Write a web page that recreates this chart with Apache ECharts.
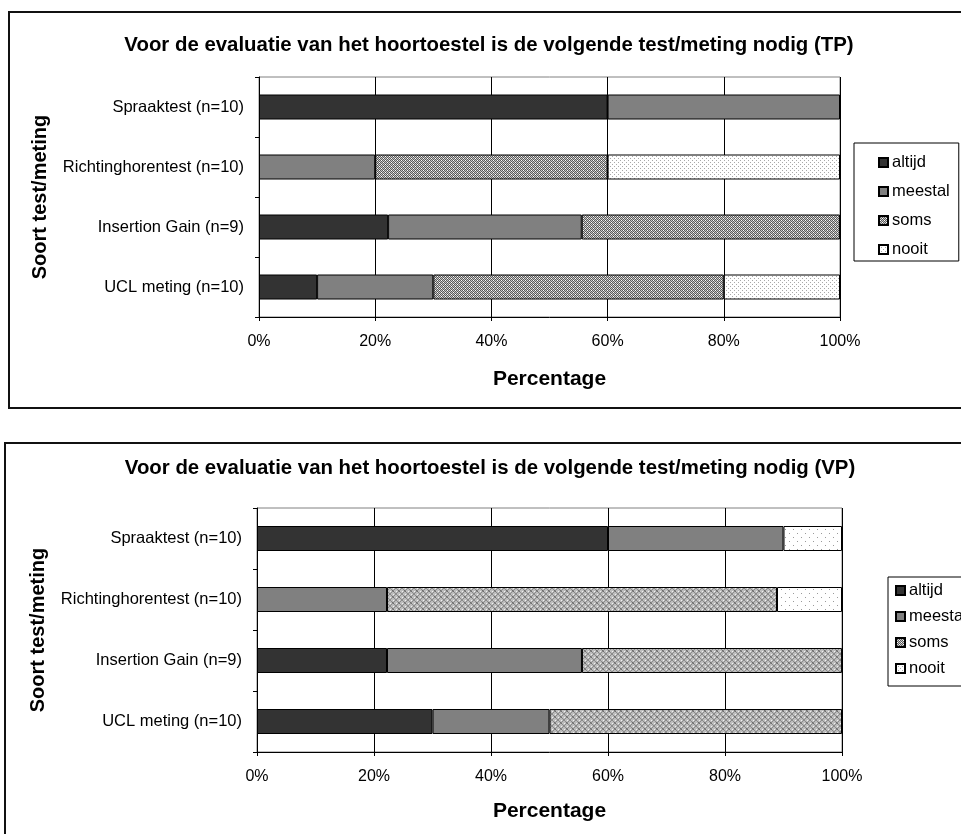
<!DOCTYPE html>
<html>
<head>
<meta charset="utf-8">
<script src="https://cdn.jsdelivr.net/npm/echarts@6/dist/echarts.min.js"></script>
<style>
  html, body { margin: 0; padding: 0; background: #fff; }
  #chart { width: 961px; height: 834px; }
</style>
</head>
<body>
<div id="chart"></div>
<script>
// Categories (top to bottom)
const categories = ['Spraaktest (n=10)', 'Richtinghorentest (n=10)', 'Insertion Gain (n=9)', 'UCL meting (n=10)'];
const seriesNames = ['altijd', 'meestal', 'soms', 'nooit'];
const xTicks = [0, 20, 40, 60, 80, 100];

// TP percentages per category
const tpAltijd  = [60, 0, 22.22, 10];
const tpMeestal = [40, 20, 33.33, 20];
const tpSoms    = [0, 40, 44.44, 50];
const tpNooit   = [0, 40, 0, 20];

// VP percentages per category
const vpAltijd  = [60, 0, 22.22, 30];
const vpMeestal = [30, 22.22, 33.33, 20];
const vpSoms    = [0, 66.67, 44.44, 50];
const vpNooit   = [10, 11.11, 0, 0];

const titleTP = 'Voor de evaluatie van het hoortoestel is de volgende test/meting nodig (TP)';
const titleVP = 'Voor de evaluatie van het hoortoestel is de volgende test/meting nodig (VP)';
const yName = 'Soort test/meting';
const xName = 'Percentage';

// Fill patterns drawn on small tiles
function tile(size, paint) {
  const c = document.createElement('canvas');
  c.width = size; c.height = size;
  const ctx = c.getContext('2d');
  paint(ctx);
  return { image: c, repeat: 'repeat' };
}
function px(ctx, x, y, col) { ctx.fillStyle = col; ctx.fillRect(x, y, 1, 1); }

const fineDither = tile(4, ctx => {
  ctx.fillStyle = '#c8c8c8'; ctx.fillRect(0, 0, 4, 4);
  for (let y = 0; y < 4; y++) for (let x = 0; x < 4; x++) {
    if ((x + y) % 2 === 0) px(ctx, x, y, '#5a5a5a');
  }
  px(ctx, 1, 0, '#ffffff'); px(ctx, 3, 2, '#ffffff');
});
const sparseDots = tile(4, ctx => {
  ctx.fillStyle = '#ffffff'; ctx.fillRect(0, 0, 4, 4);
  px(ctx, 0, 0, '#a8a8a8'); px(ctx, 2, 2, '#a8a8a8');
});
const crossWeave = tile(6, ctx => {
  ctx.fillStyle = '#bdbdbd'; ctx.fillRect(0, 0, 6, 6);
  for (let y = 0; y < 6; y++) for (let x = 0; x < 6; x++) {
    if (x === y || x === 5 - y) px(ctx, x, y, '#8a8a8a');
  }
  px(ctx, 0, 3, '#efefef'); px(ctx, 3, 0, '#efefef');
  px(ctx, 2, 2, '#6e6e6e'); px(ctx, 3, 3, '#6e6e6e');
});
const wideDots = tile(8, ctx => {
  ctx.fillStyle = '#ffffff'; ctx.fillRect(0, 0, 8, 8);
  px(ctx, 1, 1, '#9a9a9a'); px(ctx, 5, 5, '#9a9a9a');
});

const FONT = 'Liberation Sans, Arial, sans-serif';
const fillsTP = ['#333333', '#808080', fineDither, sparseDots];
const fillsVP = ['#333333', '#808080', crossWeave, wideDots];

const blank = v => (v === 0 ? '-' : v);

function buildSeries(gridIdx, values, fills) {
  return values.map((vals, i) => ({
    name: seriesNames[i],
    type: 'bar',
    stack: 'g' + gridIdx,
    xAxisIndex: gridIdx,
    yAxisIndex: gridIdx,
    legendIndex: gridIdx,
    barWidth: 25,
    data: vals.map(blank),
    itemStyle: { color: fills[i], borderColor: '#000', borderWidth: 1 },
    emphasis: { disabled: true },
    silent: true
  }));
}

function xAxis(gridIdx, gap) {
  return {
    type: 'value', gridIndex: gridIdx, min: 0, max: 100, interval: 20,
    name: xName, nameLocation: 'middle', nameGap: gap,
    nameTextStyle: { fontFamily: FONT, fontWeight: 'bold', fontSize: 21, color: '#000' },
    axisLine: { show: true, lineStyle: { color: '#000', width: 1 } },
    axisTick: { show: true, length: 4, lineStyle: { color: '#000' } },
    axisLabel: { formatter: '{value}%', margin: 17, fontFamily: FONT, fontSize: 16, color: '#000' },
    splitLine: { show: true, lineStyle: { color: '#000', width: 1 } }
  };
}
function yAxis(gridIdx, gap) {
  return {
    type: 'category', gridIndex: gridIdx, data: categories, inverse: true,
    name: yName, nameLocation: 'middle', nameGap: gap, nameRotate: 90,
    nameTextStyle: { fontFamily: FONT, fontWeight: 'bold', fontSize: 20, color: '#000' },
    axisLine: { show: true, lineStyle: { color: '#000', width: 1 } },
    axisTick: { show: true, length: 4, inside: false, lineStyle: { color: '#000' } },
    axisLabel: { margin: 15, fontFamily: FONT, fontSize: 16.5, color: '#000' },
    splitLine: { show: false }
  };
}
function legend(left, top, gap, padding) {
  return {
    data: seriesNames, orient: 'vertical', left: left, top: top,
    icon: 'rect', itemWidth: 9, itemHeight: 9, itemGap: gap,
    borderColor: '#000', borderWidth: 1, padding: padding,
    textStyle: { fontFamily: FONT, fontSize: 16.5, color: '#000', padding: [0, 0, 0, -1] },
    selectedMode: false
  };
}

const chart = echarts.init(document.getElementById('chart'), null, { renderer: 'canvas' });
chart.setOption({
  backgroundColor: '#fff',
  animation: false,
  title: [
    { text: titleTP, left: 484, top: 30, textAlign: 'center',
      textStyle: { fontFamily: FONT, fontWeight: 'bold', fontSize: 20.4, color: '#000' } },
    { text: titleVP, left: 485, top: 453, textAlign: 'center',
      textStyle: { fontFamily: FONT, fontWeight: 'bold', fontSize: 20.4, color: '#000' } }
  ],
  grid: [
    { left: 259, top: 77, width: 581, height: 240, show: true, borderColor: '#808080', borderWidth: 1, backgroundColor: 'transparent' },
    { left: 257, top: 508, width: 585, height: 244, show: true, borderColor: '#808080', borderWidth: 1, backgroundColor: 'transparent' }
  ],
  xAxis: [xAxis(0, 52), xAxis(1, 49)],
  yAxis: [yAxis(0, 209), yAxis(1, 209)],
  legend: [legend(854, 143, 12, [11, 9, 3, 24]), legend(888, 577, 9, [5, 9, 9, 7])],
  graphic: [
    { type: 'rect', shape: { x: 9, y: 12, width: 980, height: 396 }, style: { fill: null, stroke: '#111', lineWidth: 2 }, silent: true, z: -1 },
    { type: 'rect', shape: { x: 5, y: 443, width: 980, height: 420 }, style: { fill: null, stroke: '#111', lineWidth: 2 }, silent: true, z: -1 }
  ],
  series: buildSeries(0, [tpAltijd, tpMeestal, tpSoms, tpNooit], fillsTP)
    .concat(buildSeries(1, [vpAltijd, vpMeestal, vpSoms, vpNooit], fillsVP))
});
</script>
</body>
</html>
